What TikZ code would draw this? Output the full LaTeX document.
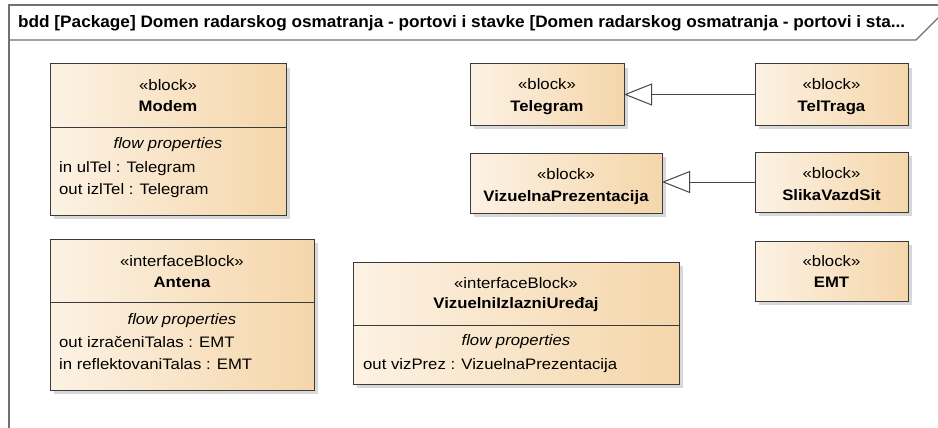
\documentclass[tikz,border=0pt]{standalone}
\usepackage{fontspec}
\setmainfont{Liberation Sans}[FakeStretch=1.1]
\usetikzlibrary{arrows.meta,shadows}

\definecolor{blkL}{RGB}{252,242,228}
\definecolor{blkR}{RGB}{245,214,170}
\definecolor{bordc}{RGB}{58,58,58}
\definecolor{framec}{RGB}{112,112,112}
\definecolor{linec}{RGB}{70,70,70}
\definecolor{shadc}{RGB}{216,216,216}

\tikzset{
  blk/.style={draw=bordc, line width=1pt, left color=blkL, right color=blkR,
    inner sep=0pt, outer sep=0pt, anchor=north west,
    drop shadow={shadow xshift=4pt, shadow yshift=-4pt, fill=shadc, opacity=1}},
  stereo/.style={anchor=base, inner sep=0pt},
  bname/.style={anchor=base, inner sep=0pt, font=\bfseries},
  hdr/.style={anchor=base, inner sep=0pt, font=\itshape},
  prop/.style={anchor=base west, inner sep=0pt},
  sepline/.style={draw=bordc, line width=1pt},
  gen/.style={draw=linec, line width=1pt,
    -{Triangle[open, length=28pt, width=22pt, fill=white]}},
  framel/.style={draw=framec, line width=1.3pt},
}

\begin{document}
\fontsize{15.2}{17}\selectfont
\begin{tikzpicture}[x=1pt, y=-1pt]
\useasboundingbox (0,0) rectangle (938,428);
\fill[white] (0,0) rectangle (938,428);

% diagram frame with name tab
\draw[framel] (9,428) -- (9,5) -- (938,5);
\draw[framel] (9,40) -- (916,40) -- (938,18);
\node[anchor=base west, inner sep=0pt] (title) at (18,28)
  {\resizebox{887pt}{12pt}{\fontspec{Liberation Sans}\bfseries bdd [Package] Domen radarskog osmatranja - portovi i stavke [Domen radarskog osmatranja - portovi i sta...}};

% Modem
\node[blk, minimum width=236pt, minimum height=151pt] (modem) at (50,64) {};
\node[stereo] (modemSt) at ([yshift=-27pt]modem.north) {«block»};
\node[bname]  (modemNm) at ([yshift=-48pt]modem.north) {Modem};
\draw[sepline] ([yshift=-63pt]modem.north west) -- ([yshift=-63pt]modem.north east);
\node[hdr]  (modemFp) at ([yshift=-85pt]modem.north) {flow properties};
\node[prop] (modemP1) at ([xshift=9pt,yshift=-108pt]modem.north west) {in ulTel : Telegram};
\node[prop] (modemP2) at ([xshift=9pt,yshift=-130pt]modem.north west) {out izlTel : Telegram};

% Antena
\node[blk, minimum width=264pt, minimum height=151pt] (antena) at (50,239) {};
\node[stereo] (antenaSt) at ([yshift=-27pt]antena.north) {«interfaceBlock»};
\node[bname]  (antenaNm) at ([yshift=-48pt]antena.north) {Antena};
\draw[sepline] ([yshift=-63pt]antena.north west) -- ([yshift=-63pt]antena.north east);
\node[hdr]  (antenaFp) at ([yshift=-85pt]antena.north) {flow properties};
\node[prop] (antenaP1) at ([xshift=9pt,yshift=-108pt]antena.north west) {out izračeniTalas : EMT};
\node[prop] (antenaP2) at ([xshift=9pt,yshift=-130pt]antena.north west) {in reflektovaniTalas : EMT};

% VizuelniIzlazniUređaj
\node[blk, minimum width=326pt, minimum height=122pt] (viu) at (353,262) {};
\node[stereo] (viuSt) at ([yshift=-26pt]viu.north) {«interfaceBlock»};
\node[bname]  (viuNm) at ([yshift=-46pt]viu.north) {VizuelniIzlazniUređaj};
\draw[sepline] ([yshift=-63pt]viu.north west) -- ([yshift=-63pt]viu.north east);
\node[hdr]  (viuFp) at ([yshift=-83pt]viu.north) {flow properties};
\node[prop] (viuP1) at ([xshift=10pt,yshift=-107pt]viu.north west) {out vizPrez : VizuelnaPrezentacija};

% Telegram and TelTraga
\node[blk, minimum width=154pt, minimum height=61pt] (tel) at (470,64) {};
\node[stereo] (telSt) at ([yshift=-26pt]tel.north) {«block»};
\node[bname]  (telNm) at ([yshift=-47pt]tel.north) {Telegram};

\node[blk, minimum width=153pt, minimum height=61pt] (teltr) at (755,64) {};
\node[stereo] (teltrSt) at ([yshift=-26pt]teltr.north) {«block»};
\node[bname]  (teltrNm) at ([yshift=-47pt]teltr.north) {TelTraga};

% VizuelnaPrezentacija and SlikaVazdSit
\node[blk, minimum width=192pt, minimum height=60pt] (vp) at (470,153) {};
\node[stereo] (vpSt) at ([yshift=-26pt]vp.north) {«block»};
\node[bname]  (vpNm) at ([yshift=-48pt]vp.north) {VizuelnaPrezentacija};

\node[blk, minimum width=153pt, minimum height=60pt] (svs) at (755,152) {};
\node[stereo] (svsSt) at ([yshift=-26pt]svs.north) {«block»};
\node[bname]  (svsNm) at ([yshift=-48pt]svs.north) {SlikaVazdSit};

% EMT
\node[blk, minimum width=153pt, minimum height=60pt] (emt) at (755,241) {};
\node[stereo] (emtSt) at ([yshift=-25pt]emt.north) {«block»};
\node[bname]  (emtNm) at ([yshift=-46pt]emt.north) {EMT};

% generalizations
\draw[gen] (teltr.west) -- (tel.east |- teltr.west);
\draw[gen] (svs.west) -- (vp.east |- svs.west);
\end{tikzpicture}
\end{document}
